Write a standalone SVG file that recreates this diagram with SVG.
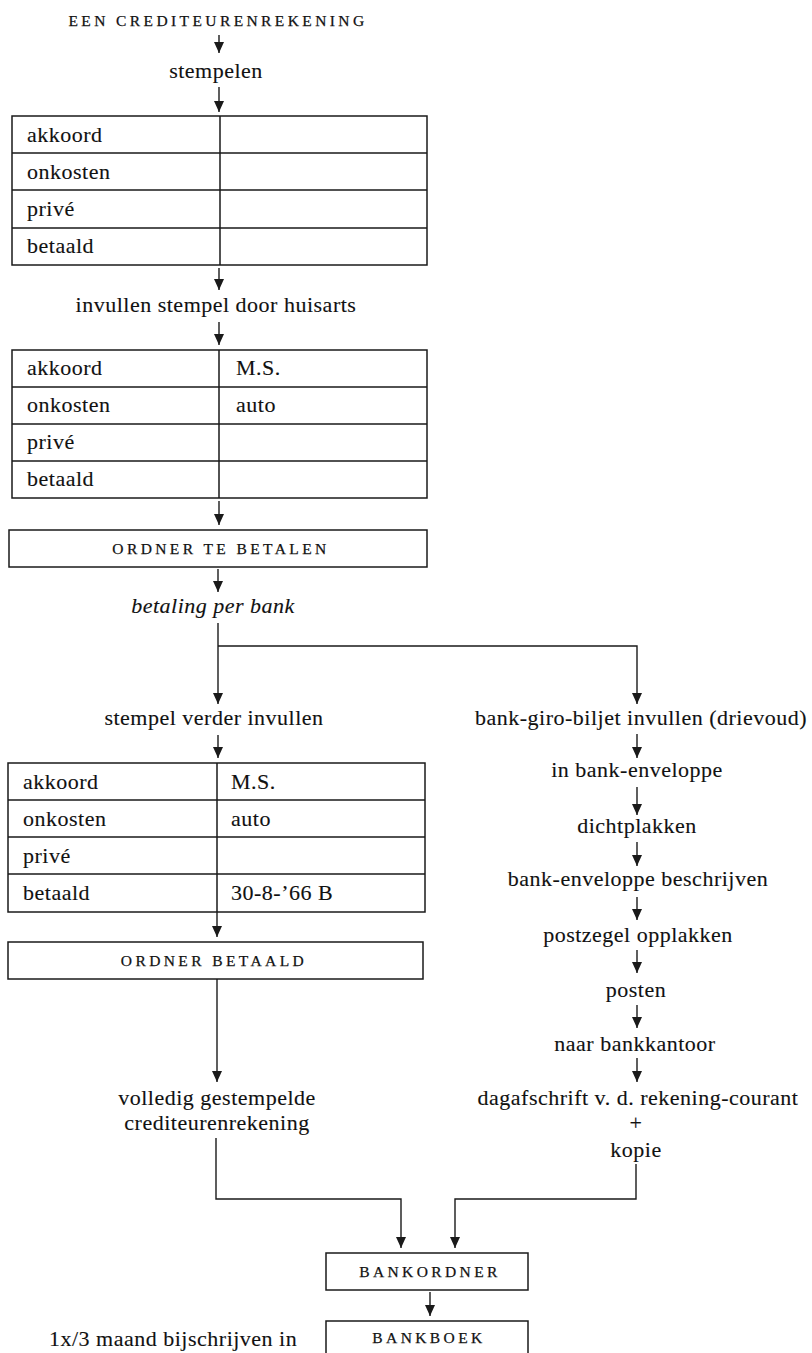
<svg xmlns="http://www.w3.org/2000/svg" width="812" height="1353" viewBox="0 0 812 1353">
<style>
.bg{fill:#ffffff}
.t{font-family:"Liberation Serif","Times New Roman",serif;font-size:22px;letter-spacing:0.5px;fill:#111;stroke:#111;stroke-width:0.12}
.c{text-anchor:middle}
.i{font-style:italic}
.sc{font-family:"Liberation Serif","Times New Roman",serif;font-size:15.5px;letter-spacing:3.4px;fill:#111;stroke:#111;stroke-width:0.25;text-anchor:middle}
.ln{stroke:#1a1a1a;stroke-width:1.5;fill:none}
.bx{stroke:#1a1a1a;stroke-width:1.5;fill:none}
.ar{stroke:#1a1a1a;stroke-width:1.4;fill:none;marker-end:url(#ah)}
</style>
<defs>
<marker id="ah" viewBox="0 0 11 10" refX="11" refY="5" markerWidth="11" markerHeight="10" markerUnits="userSpaceOnUse" orient="auto">
<path d="M0,0 L11,5 L0,10 Z" fill="#1a1a1a"/>
</marker>
</defs>
<rect class="bg" x="0" y="0" width="812" height="1353"/>

<g id="n-start"><text class="sc" x="218" y="26">EEN CREDITEURENREKENING</text></g>
<g id="n-stempelen"><text class="t c" x="216" y="78">stempelen</text></g>

<g id="n-table1">
<rect class="bx" x="12" y="116" width="415" height="149"/>
<path class="ln" d="M12,153H427M12,190H427M12,228H427M220,116V265"/>
<text class="t" x="27" y="142">akkoord</text>
<text class="t" x="27" y="179">onkosten</text>
<text class="t" x="27" y="216">privé</text>
<text class="t" x="27" y="253">betaald</text>
</g>

<g id="n-invullen"><text class="t c" x="216" y="312">invullen stempel door huisarts</text></g>

<g id="n-table2">
<rect class="bx" x="12" y="350" width="415" height="148"/>
<path class="ln" d="M12,387H427M12,424H427M12,461H427M219,350V498"/>
<text class="t" x="27" y="375">akkoord</text>
<text class="t" x="27" y="412">onkosten</text>
<text class="t" x="27" y="449">privé</text>
<text class="t" x="27" y="486">betaald</text>
<text class="t" x="236" y="375">M.S.</text>
<text class="t" x="236" y="412">auto</text>
</g>

<g id="n-ordner-te-betalen">
<rect class="bx" x="9" y="530" width="418" height="37"/>
<text class="sc" x="221" y="554">ORDNER TE BETALEN</text>
</g>

<g id="n-betaling"><text class="t c i" x="213" y="613">betaling per bank</text></g>

<g id="n-stempel-verder"><text class="t c" x="214" y="725">stempel verder invullen</text></g>

<g id="n-table3">
<rect class="bx" x="8" y="763" width="417" height="149"/>
<path class="ln" d="M8,800H425M8,837H425M8,874H425M217,763V912"/>
<text class="t" x="23" y="789">akkoord</text>
<text class="t" x="23" y="826">onkosten</text>
<text class="t" x="23" y="863">privé</text>
<text class="t" x="23" y="900">betaald</text>
<text class="t" x="231" y="789">M.S.</text>
<text class="t" x="231" y="826">auto</text>
<text class="t" x="231" y="900">30-8-’66 B</text>
</g>

<g id="n-ordner-betaald">
<rect class="bx" x="8" y="942" width="415" height="37"/>
<text class="sc" x="214" y="966">ORDNER BETAALD</text>
</g>

<g id="n-volledig">
<text class="t c" x="217" y="1105">volledig gestempelde</text>
<text class="t c" x="217" y="1130">crediteurenrekening</text>
</g>

<g id="n-bankgiro"><text class="t c" x="641" y="725">bank-giro-biljet invullen (drievoud)</text></g>
<g id="n-in-envelop"><text class="t c" x="637" y="777">in bank-enveloppe</text></g>
<g id="n-dichtplakken"><text class="t c" x="637" y="833">dichtplakken</text></g>
<g id="n-beschrijven"><text class="t c" x="638" y="886">bank-enveloppe beschrijven</text></g>
<g id="n-postzegel"><text class="t c" x="638" y="942">postzegel opplakken</text></g>
<g id="n-posten"><text class="t c" x="636" y="997">posten</text></g>
<g id="n-bankkantoor"><text class="t c" x="635" y="1051">naar bankkantoor</text></g>
<g id="n-dagafschrift">
<text class="t c" x="638" y="1105">dagafschrift v. d. rekening-courant</text>
<text class="t c" x="636" y="1130">+</text>
<text class="t c" x="636" y="1157">kopie</text>
</g>

<g id="n-bankordner">
<rect class="bx" x="326" y="1253" width="202" height="37"/>
<text class="sc" x="430" y="1277">BANKORDNER</text>
</g>

<g id="n-bankboek">
<path class="bx" d="M326,1360V1321H528V1360"/>
<text class="sc" x="429" y="1343">BANKBOEK</text>
</g>

<g id="n-note"><text class="t" x="49" y="1346">1x/3 maand bijschrijven in</text></g>

<g id="connectors">
<path class="ar" d="M219,35V53"/>
<path class="ar" d="M219,87V112"/>
<path class="ar" d="M219,268V290"/>
<path class="ar" d="M219,322V345"/>
<path class="ar" d="M219,501V525"/>
<path class="ar" d="M218,569V592"/>
<path class="ar" d="M218,623V704"/>
<path class="ar" d="M218,646H637V704"/>
<path class="ar" d="M218,735V758"/>
<path class="ar" d="M217,912V937"/>
<path class="ar" d="M217,979V1082"/>
<path class="ar" d="M637,734V758"/>
<path class="ar" d="M637,787V815"/>
<path class="ar" d="M637,842V866"/>
<path class="ar" d="M637,897V920"/>
<path class="ar" d="M637,950V973"/>
<path class="ar" d="M637,1005V1028"/>
<path class="ar" d="M637,1058V1082"/>
<path class="ar" d="M216,1138V1199H401V1248"/>
<path class="ar" d="M636,1164V1199H455V1248"/>
<path class="ar" d="M430,1292V1316"/>
</g>
</svg>
